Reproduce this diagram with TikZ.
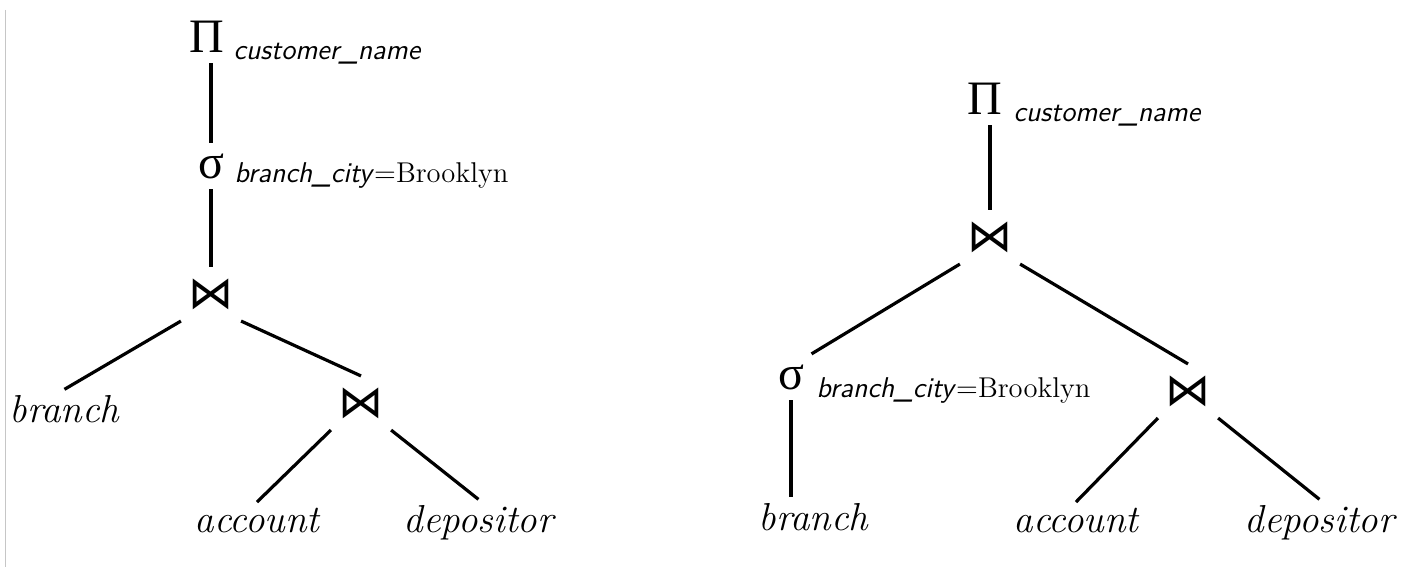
\RequirePackage{fix-cm}
\documentclass[tikz,border=0pt]{standalone}
\usepackage{fontspec}
\newfontfamily\grkfont{Liberation Serif}
\newfontfamily\symfont{DejaVu Sans}
\newcommand{\attr}[1]{\textsf{\textit{#1}}}

\begin{document}
\begin{tikzpicture}[x=0.5pt,y=-0.5pt, line width=1.6pt,
    op/.style={inner xsep=3pt,inner ysep=4.5pt,font=\fontsize{24}{28}\selectfont\grkfont},
    joinop/.style={inner xsep=3pt,inner ysep=5pt,font=\fontsize{22.5}{26}\selectfont\symfont},
    rel/.style={inner sep=2pt,anchor=base west,font=\fontsize{19.5}{23}\selectfont\itshape},
    cond/.style={inner sep=0pt,anchor=base west,font=\fontsize{14.3}{17}\selectfont}]
        \useasboundingbox (0,0) rectangle (1424,567);
        \draw[gray!45, line width=0.5pt] (5,10) -- (5,567);
        % left tree
        \node[op] (pi1) at (207,37) {Π};
        \node[cond] at (232,60) {\attr{customer\_name}};
        \node[op] (sel1) at (211,166) {σ};
        \node[cond] at (233,183) {\attr{branch\_city}=Brooklyn};
        \node[joinop] (join1) at (211,294) {⋈};
        \node[rel] (branch1) at (4,422) {branch};
        \node[joinop] (join2) at (361,403) {⋈};
        \node[rel] (account1) at (189,532) {account};
        \node[rel] (depositor1) at (398,532) {depositor};
        \draw (sel1.north |- pi1.south) -- (sel1.north);
        \draw (sel1.south) -- (join1.north);
        \draw (join1.south west) -- (branch1.north);
        \draw (join1.south east) -- (join2.north);
        \draw (join2.south west) -- (account1.north);
        \draw (join2.south east) -- (depositor1.north);
        % right tree
        \node[op] (pi2) at (985,99) {Π};
        \node[cond] at (1012,122) {\attr{customer\_name}};
        \node[joinop] (join3) at (990,237) {⋈};
        \node[op] (sel2) at (791,377) {σ};
        \node[cond] at (815,397) {\attr{branch\_city}=Brooklyn};
        \node[rel] (branch2) at (753,530) {branch};
        \node[joinop] (join4) at (1188,391) {⋈};
        \node[rel] (account2) at (1008,532) {account};
        \node[rel] (depositor2) at (1239,532) {depositor};
        \draw (join3.north |- pi2.south) -- (join3.north);
        \draw (join3.south west) -- (sel2.north east);
        \draw (join3.south east) -- (join4.north);
        \draw (sel2.south) -- (sel2.south |- branch2.north);
        \draw (join4.south west) -- (account2.north);
        \draw (join4.south east) -- (depositor2.north);
\end{tikzpicture}
\end{document}
